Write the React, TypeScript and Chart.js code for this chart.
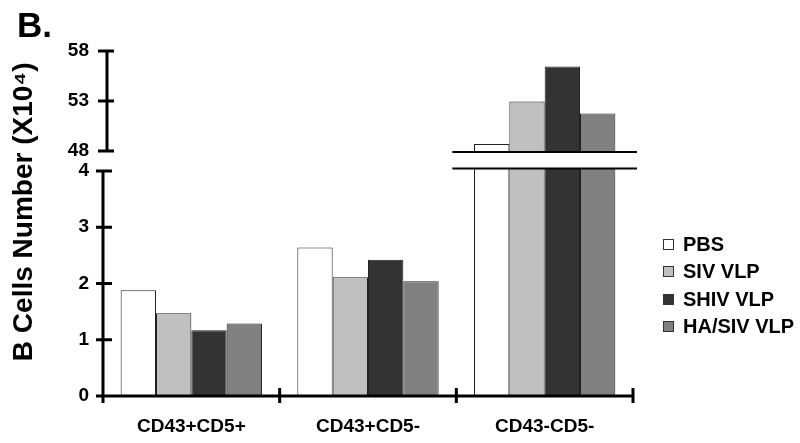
import React, { useEffect, useRef } from 'react';
import { Chart, registerables, LinearScale } from 'chart.js';

// ---------- data ----------
const categories = ['CD43+CD5+', 'CD43+CD5-', 'CD43-CD5-'];
const seriesNames = ['PBS', 'SIV VLP', 'SHIV VLP', 'HA/SIV VLP'];
const pbsValues = [1.88, 2.64, 48.7];
const sivValues = [1.47, 2.11, 52.95];
const shivValues = [1.17, 2.42, 56.45];
const haSivValues = [1.29, 2.04, 51.75];
const lowerTicks = [0, 1, 2, 3, 4];
const upperTicks = [48, 53, 58];
const yTitle = 'B Cells Number (X10\u2074)';
const panelTitle = 'B.';

// ---------- styles ----------
const seriesColors = ['#ffffff', '#c0c0c0', '#333333', '#808080'];
const FONT = "'Liberation Sans', Arial, Helvetica, sans-serif";

// fractions of plot height: upper segment, gap, lower segment
const UP_FRAC = 0.2896;
const GAP_FRAC = 0.0579;
const LOW_FRAC = 1 - UP_FRAC - GAP_FRAC;

const LOW_MIN = Math.min(...lowerTicks);
const LOW_MAX = Math.max(...lowerTicks);
const UP_MIN = Math.min(...upperTicks);
const UP_MAX = Math.max(...upperTicks);

class BrokenLinearScale extends LinearScale {
  static id = 'brokenLinear';
  static defaults = LinearScale.defaults;
  getPixelForValue(value: number) {
    if (value === null || value === undefined || isNaN(value)) return NaN;
    const top = this.top;
    const bottom = this.bottom;
    const H = bottom - top;
    const lowH = H * LOW_FRAC;
    const upH = H * UP_FRAC;
    const gapTop = top + upH;
    const gapBottom = bottom - lowH;
    if (value <= LOW_MAX) return bottom - ((value - LOW_MIN) / (LOW_MAX - LOW_MIN)) * lowH;
    if (value >= UP_MIN) return gapTop - ((value - UP_MIN) / (UP_MAX - UP_MIN)) * upH;
    return gapBottom - ((value - LOW_MAX) / (UP_MIN - LOW_MAX)) * (gapBottom - gapTop);
  }
  getValueForPixel(pixel: number) {
    const top = this.top;
    const bottom = this.bottom;
    const H = bottom - top;
    const lowH = H * LOW_FRAC;
    const upH = H * UP_FRAC;
    const gapTop = top + upH;
    const gapBottom = bottom - lowH;
    if (pixel >= gapBottom) return LOW_MIN + ((bottom - pixel) / lowH) * (LOW_MAX - LOW_MIN);
    if (pixel <= gapTop) return UP_MIN + ((gapTop - pixel) / upH) * (UP_MAX - UP_MIN);
    return LOW_MAX + ((gapBottom - pixel) / (gapBottom - gapTop)) * (UP_MIN - LOW_MAX);
  }
}

Chart.register(...registerables, BrokenLinearScale);

const axesPlugin = {
  id: 'brokenAxes',
  afterDatasetsDraw(chart: any) {
    const { ctx } = chart;
    const x = chart.scales.x;
    const y = chart.scales.y;
    const n = categories.length;
    const catW = x.width / n;
    const upBottom = y.getPixelForValue(UP_MIN);
    const lowTop = y.getPixelForValue(LOW_MAX);
    const lineA = upBottom + 1;
    const lineB = lowTop - 2.5;
    ctx.save();
    // break band over categories whose bars pass through the gap
    for (let i = 0; i < n; i++) {
      const broken = chart.data.datasets.some((d: any) => d.data[i] > LOW_MAX);
      if (!broken) continue;
      const cx = x.getPixelForValue(i);
      const x0 = cx - catW / 2 - 4;
      const x1 = cx + catW / 2 + 4;
      ctx.fillStyle = '#ffffff';
      ctx.fillRect(x0, lineA, x1 - x0, lineB - lineA);
      ctx.strokeStyle = '#000000';
      ctx.lineWidth = 2;
      ctx.beginPath();
      ctx.moveTo(x0, lineA);
      ctx.lineTo(x1, lineA);
      ctx.moveTo(x0, lineB);
      ctx.lineTo(x1, lineB);
      ctx.stroke();
    }
    const ax = x.left;
    const axUp = ax + 4;
    ctx.strokeStyle = '#000000';
    ctx.lineWidth = 3;
    ctx.lineCap = 'butt';
    ctx.beginPath();
    // lower y segment
    ctx.moveTo(ax, lowTop);
    ctx.lineTo(ax, y.bottom + 7);
    // upper y segment
    ctx.moveTo(axUp, y.getPixelForValue(UP_MAX));
    ctx.lineTo(axUp, upBottom);
    // y tick crosses
    lowerTicks.forEach((v) => {
      const py = y.getPixelForValue(v);
      ctx.moveTo(ax - 7, py);
      ctx.lineTo(ax + 9, py);
    });
    upperTicks.forEach((v) => {
      const py = y.getPixelForValue(v);
      ctx.moveTo(axUp - 9, py);
      ctx.lineTo(axUp + 7, py);
    });
    // x axis
    const yb = y.getPixelForValue(LOW_MIN);
    ctx.moveTo(ax, yb);
    ctx.lineTo(x.right, yb);
    for (let i = 1; i <= n; i++) {
      const px = x.left + i * catW;
      ctx.moveTo(px, yb - 8);
      ctx.lineTo(px, yb + 7);
    }
    ctx.stroke();
    // panel title
    ctx.fillStyle = '#000000';
    ctx.font = `bold 35px ${FONT}`;
    ctx.textAlign = 'left';
    ctx.textBaseline = 'alphabetic';
    ctx.fillText(panelTitle, 17, 37);
    ctx.restore();
  },
};

const allSeries = [pbsValues, sivValues, shivValues, haSivValues];

export default function App() {
  const ref = useRef<HTMLCanvasElement | null>(null);
  useEffect(() => {
    if (!ref.current) return;
    const chart = new Chart(ref.current, {
      type: 'bar',
      data: {
        labels: categories,
        datasets: allSeries.map((vals, i) => ({
          label: seriesNames[i],
          data: vals,
          backgroundColor: seriesColors[i],
          borderColor: '#222222',
          borderWidth: 1,
          categoryPercentage: 0.8,
          barPercentage: 1.0,
        })),
      },
      options: {
        animation: false,
        responsive: false,
        maintainAspectRatio: false,
        layout: { padding: { top: 51, right: 167, bottom: 0, left: 0 } },
        plugins: {
          legend: { display: false },
          tooltip: { enabled: false },
        },
        scales: {
          x: {
            type: 'category',
            offset: true,
            grid: { display: false, drawTicks: false },
            border: { display: false },
            ticks: {
              color: '#000',
              padding: 19,
              maxRotation: 0,
              font: { family: FONT, size: 19, weight: 'bold' },
            },
            afterFit: (s: any) => {
              s.height = 47;
            },
          },
          y: {
            type: 'brokenLinear' as any,
            min: LOW_MIN,
            max: UP_MAX,
            grid: { display: false, drawTicks: false },
            border: { display: false },
            ticks: {
              color: '#000',
              padding: 14,
              autoSkip: false,
              font: { family: FONT, size: 19, weight: 'bold' },
            },
            afterBuildTicks: (s: any) => {
              s.ticks = [...lowerTicks, ...upperTicks].map((v) => ({ value: v }));
            },
            title: {
              display: true,
              text: '   ' + yTitle,
              color: '#000',
              padding: { top: 7, bottom: 0 },
              font: { family: FONT, size: 28, weight: 'bold' },
            },
            afterFit: (s: any) => {
              s.width = 103;
            },
          } as any,
        },
      },
      plugins: [axesPlugin],
    });
    return () => chart.destroy();
  }, []);

  return (
    <div style={{ position: 'absolute', left: 0, top: 0, width: 800, height: 443, background: '#fff' }}>
      <canvas ref={ref} width={800} height={443} style={{ width: 800, height: 443, display: 'block' }} />
      {seriesNames.map((name, i) => (
        <div key={name} style={{ position: 'absolute', left: 663, top: 244 + i * 27.6 - 12, height: 24, display: 'flex', alignItems: 'center', fontFamily: FONT, fontWeight: 'bold', fontSize: 20, color: '#000', whiteSpace: 'nowrap' }}>
          <span style={{ display: 'inline-block', width: 9, height: 9, border: '1px solid #333', background: seriesColors[i], marginRight: 9 }} />
          <span>{name}</span>
        </div>
      ))}
    </div>
  );
}
